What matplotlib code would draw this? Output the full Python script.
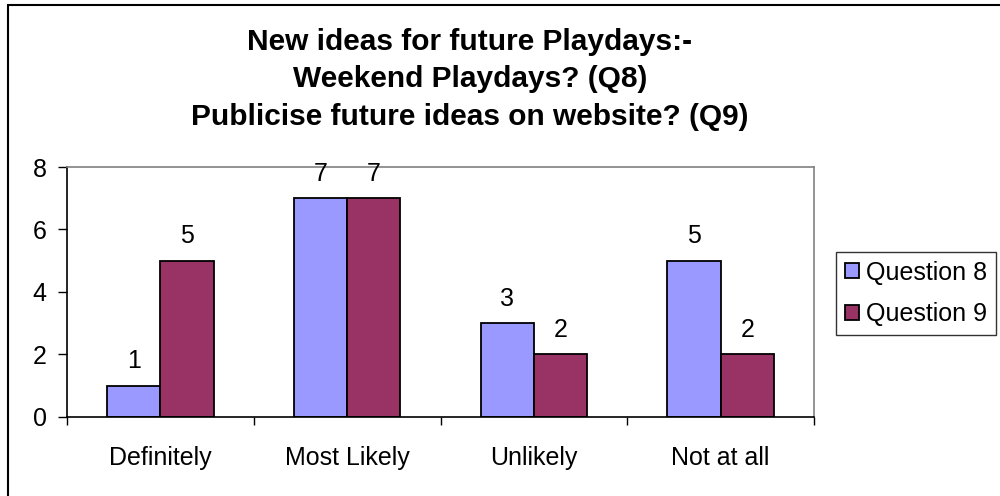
import matplotlib
matplotlib.use('Agg')
import matplotlib.pyplot as plt
import matplotlib.patches as mpatches
import numpy as np

# Data
categories = ['Definitely', 'Most Likely', 'Unlikely', 'Not at all']
question_8 = [1, 7, 3, 5]
question_9 = [5, 7, 2, 2]
series_names = ['Question 8', 'Question 9']
y_ticks = [0, 2, 4, 6, 8]

# Colors
Q8_COLOR = '#9999FF'
Q9_COLOR = '#993366'
FRAME_GRAY = '#808080'

plt.rcParams['font.family'] = ['Liberation Sans', 'DejaVu Sans']

fig = plt.figure(figsize=(10, 4.96), dpi=100, facecolor='white')
ax = fig.add_axes([0.067, 0.1593, 0.747, 0.504])

x = np.arange(len(categories))
bw = 0.285
b1 = ax.bar(x - bw / 2, question_8, width=bw, color=Q8_COLOR,
            edgecolor='black', linewidth=1.3, label=series_names[0])
b2 = ax.bar(x + bw / 2, question_9, width=bw, color=Q9_COLOR,
            edgecolor='black', linewidth=1.3, label=series_names[1])
ax.bar_label(b1, padding=9, fontsize=18)
ax.bar_label(b2, padding=9, fontsize=18)

ax.set_xlim(-0.5, len(categories) - 0.5)
ax.set_ylim(0, 8)
ax.set_yticks(y_ticks)
ax.tick_params(axis='y', labelsize=18, length=6.5, pad=8, width=1)

# category labels at centers, tick marks between categories
ax.set_xticks(x)
ax.set_xticklabels(categories)
ax.set_xticks(np.arange(len(categories) + 1) - 0.5, minor=True)
ax.tick_params(axis='x', which='major', length=0, labelsize=18, pad=21)
ax.tick_params(axis='x', which='minor', length=6, width=1)

for side in ('top', 'right'):
    ax.spines[side].set_color(FRAME_GRAY)
    ax.spines[side].set_linewidth(1.2)
for side in ('left', 'bottom'):
    ax.spines[side].set_color('black')
    ax.spines[side].set_linewidth(1.2)

# Title
fig.text(0.47, 0.84,
         'New ideas for future Playdays:-\nWeekend Playdays? (Q8)\nPublicise future ideas on website? (Q9)',
         ha='center', va='center', multialignment='center',
         fontsize=21.5, fontweight='bold', linespacing=1.42)

# Legend
leg = fig.legend(handles=[b1, b2], labels=series_names,
                 loc='upper left', bbox_to_anchor=(0.836, 0.492),
                 fontsize=18, frameon=True, fancybox=False, shadow=False,
                 handlelength=0.55, handleheight=0.55, handletextpad=0.3,
                 borderpad=0.35, labelspacing=0.7, borderaxespad=0)
leg.get_frame().set_edgecolor('black')
leg.get_frame().set_linewidth(1.0)

# Outer chart frame (cut off at right and bottom)
frame = mpatches.Rectangle((0.008, -0.1), 1.2, 1.1 - 5 / 496,
                           transform=fig.transFigure, fill=False,
                           edgecolor='black', linewidth=1.5, clip_on=False)
fig.patches.append(frame)

fig.savefig('out.png', dpi=100, facecolor='white')
